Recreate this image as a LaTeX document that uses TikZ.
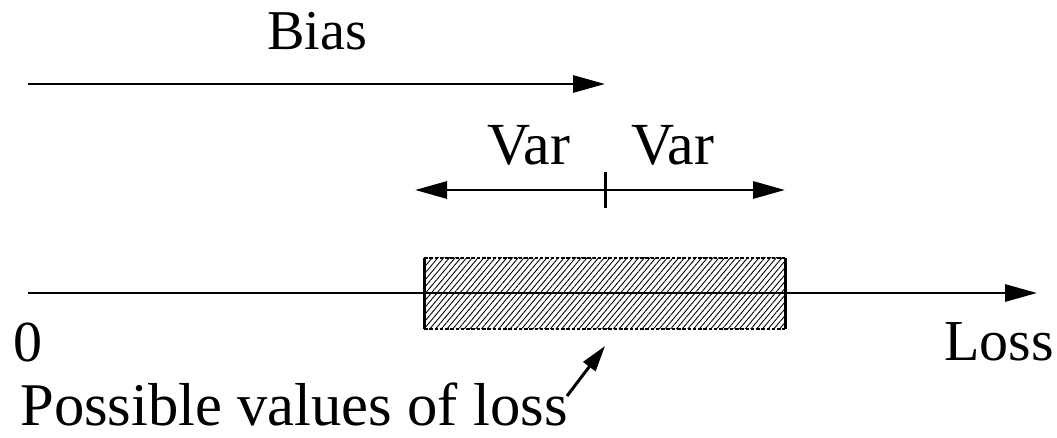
\documentclass[tikz,border=0pt]{standalone}
\usepackage{fontspec}
\setmainfont{Liberation Serif}
\newfontfamily\tnr{Liberation Serif}
\usetikzlibrary{arrows.meta,patterns.meta}
\tikzset{
  conn/.style={line width=1.7pt,-{Triangle[length=0.64cm,width=0.34cm]}},
  conn2/.style={line width=1.7pt,{Triangle[length=0.64cm,width=0.34cm]}-{Triangle[length=0.64cm,width=0.34cm]}},
  lbl/.style={inner sep=0pt,anchor=base west,font=\tnr\fontsize{33}{36}\selectfont},
}
\begin{document}
\begin{tikzpicture}[x=0.02cm,y=-0.02cm]
\useasboundingbox (0,0) rectangle (1057,438);
% coordinates
\coordinate (b0) at (28,84);
\coordinate (b1) at (605,84);
\coordinate (v0) at (415,190);
\coordinate (v1) at (785,190);
\coordinate (t0) at (605,172);
\coordinate (t1) at (605,208);
\coordinate (a0) at (28,293);
\coordinate (a1) at (1037,293);
\coordinate (p0) at (567,396);
\coordinate (p1) at (605,346);
% hatched box
\fill[pattern={Lines[angle=50,distance=2.5pt,line width=0.5pt]}] (424,258) rectangle (785,329);
\draw[line width=0.7pt,dash pattern=on 2pt off 1pt] (424,258) -- (785,258) (424,329) -- (785,329);
\draw[line width=1.7pt] (424,258) -- (424,329) (785,258) -- (785,329);
% texts
\node[lbl,font=\tnr\fontsize{32}{36}\selectfont] (bias) at (267,50) {Bias};
\node[lbl,font=\tnr\fontsize{34}{36}\selectfont] (varl) at (487,165) {Var};
\node[lbl,font=\tnr\fontsize{34}{36}\selectfont] (varr) at (631,165) {Var};
\node[lbl] (zero) at (13,362) {0};
\node[lbl] (loss) at (944,360) {Loss};
\node[lbl,font=\tnr\fontsize{34.5}{38}\selectfont] (pv) at (20,425) {Possible values of loss};
% connectors
\draw[conn] (b0) -- (b1);
\draw[conn2] (v0) -- (v1);
\draw[line width=1.7pt] (t0) -- (t1);
\draw[conn] (a0) -- (a1);
\draw[line width=1.7pt,-{Triangle[length=0.52cm,width=0.3cm]}] (p0) -- (p1);
\end{tikzpicture}
\end{document}
